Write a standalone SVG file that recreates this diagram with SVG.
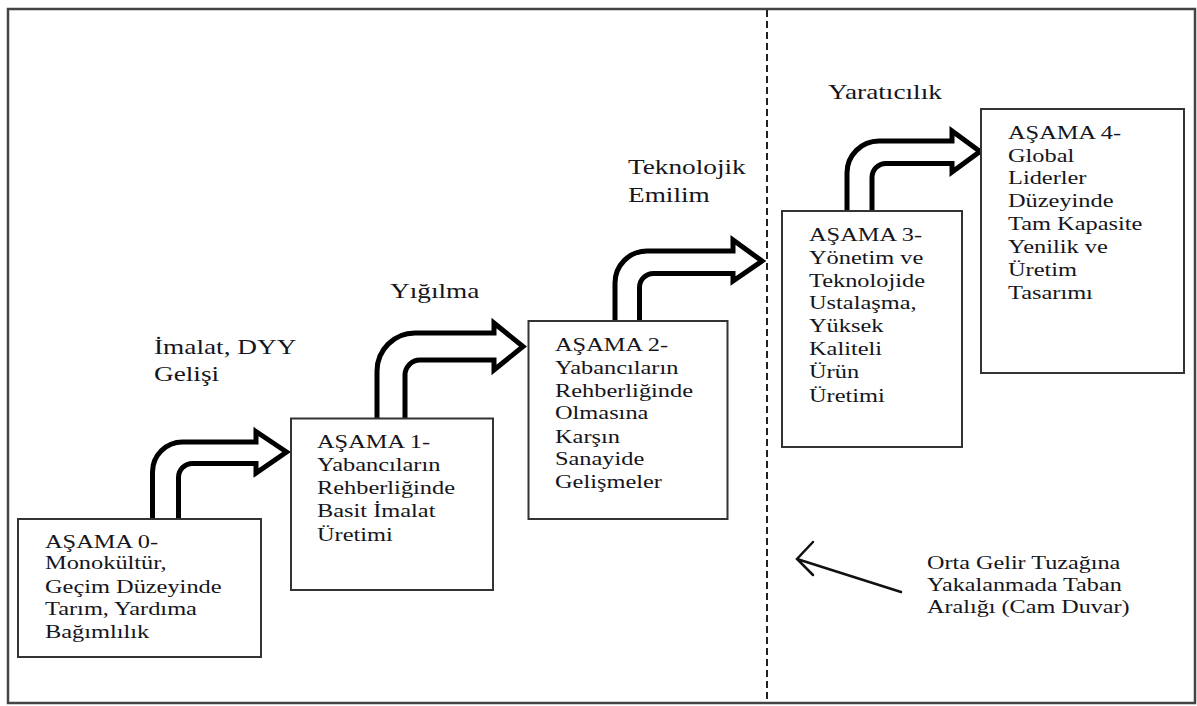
<svg xmlns="http://www.w3.org/2000/svg" width="1197" height="706" viewBox="0 0 1197 706">
<style>
.frame{fill:none;stroke:#444;stroke-width:2.5}
.box{fill:#fff;stroke:#333;stroke-width:2}
.arr{fill:#fff;stroke:#000;stroke-width:5;stroke-linejoin:miter;stroke-miterlimit:8}
.t{font-family:"Liberation Serif","Times New Roman",serif;font-size:19.5px;fill:#151520}
.lbl{font-family:"Liberation Serif","Times New Roman",serif;font-size:22px;fill:#151520}
.wall{stroke:#222;stroke-width:2;stroke-dasharray:7 4}
.ptr{fill:none;stroke:#111;stroke-width:2.5;stroke-linecap:round}
</style>
<rect width="1197" height="706" fill="#fff"/>
<rect class="frame" x="8" y="9" width="1187" height="694"/>
<line id="glass-wall" class="wall" x1="767" y1="10" x2="767" y2="702"/>

<g id="connectors">
<path class="arr" d="M152.5,519 V472 A30,30 0 0 1 182.5,442 H256 V431.5 L286.5,452 L256,473 V463.5 H192.5 A14,14 0 0 0 178.5,477.5 V519"/>
<path class="arr" d="M377,418.5 V371 A38,38 0 0 1 415,333 H494 V323 L523,346.5 L494,370 V360 H420 A15,15 0 0 0 405,375 V418.5"/>
<path class="arr" d="M615,321 V283 A32,32 0 0 1 647,251 H733 V240 L762,261 L733,281 V273.5 H653.5 A14,14 0 0 0 639.5,287.5 V321"/>
<path class="arr" d="M847,211 V173 A32,32 0 0 1 879,141 H952 V131 L980,151.5 L952,172 V163.5 H886 A14,14 0 0 0 872,177.5 V211"/>
<path class="ptr" d="M901,592 L797,559 M813,542 L797,559 L813,575"/>
</g>

<g id="stage0">
<rect class="box" x="18" y="519" width="243" height="138"/>
<text class="t" transform="translate(45,0) scale(1.25,1)"><tspan x="0" y="548">AŞAMA 0-</tspan><tspan x="0" y="569">Monokültür,</tspan><tspan x="0" y="593">Geçim Düzeyinde</tspan><tspan x="0" y="615">Tarım, Yardıma</tspan><tspan x="0" y="638">Bağımlılık</tspan></text>
</g>
<g id="stage1">
<rect class="box" x="291" y="418.5" width="202" height="171.5"/>
<text class="t" transform="translate(317,0) scale(1.25,1)"><tspan x="0" y="448">AŞAMA 1-</tspan><tspan x="0" y="471">Yabancıların</tspan><tspan x="0" y="494">Rehberliğinde</tspan><tspan x="0" y="517">Basit İmalat</tspan><tspan x="0" y="541">Üretimi</tspan></text>
</g>
<g id="stage2">
<rect class="box" x="528.5" y="321" width="199" height="198"/>
<text class="t" transform="translate(555,0) scale(1.25,1)"><tspan x="0" y="351">AŞAMA 2-</tspan><tspan x="0" y="374">Yabancıların</tspan><tspan x="0" y="397">Rehberliğinde</tspan><tspan x="0" y="419">Olmasına</tspan><tspan x="0" y="443">Karşın</tspan><tspan x="0" y="465">Sanayide</tspan><tspan x="0" y="488">Gelişmeler</tspan></text>
</g>
<g id="stage3">
<rect class="box" x="782" y="211" width="180" height="236"/>
<text class="t" transform="translate(809,0) scale(1.25,1)"><tspan x="0" y="241">AŞAMA 3-</tspan><tspan x="0" y="264">Yönetim ve</tspan><tspan x="0" y="287">Teknolojide</tspan><tspan x="0" y="309">Ustalaşma,</tspan><tspan x="0" y="332">Yüksek</tspan><tspan x="0" y="355">Kaliteli</tspan><tspan x="0" y="378">Ürün</tspan><tspan x="0" y="402">Üretimi</tspan></text>
</g>
<g id="stage4">
<rect class="box" x="981" y="109" width="203" height="264"/>
<text class="t" transform="translate(1008,0) scale(1.25,1)"><tspan x="0" y="139">AŞAMA 4-</tspan><tspan x="0" y="162">Global</tspan><tspan x="0" y="184">Liderler</tspan><tspan x="0" y="207">Düzeyinde</tspan><tspan x="0" y="230">Tam Kapasite</tspan><tspan x="0" y="253">Yenilik ve</tspan><tspan x="0" y="276">Üretim</tspan><tspan x="0" y="299">Tasarımı</tspan></text>
</g>

<g id="labels">
<text class="lbl" transform="translate(154,0) scale(1.24,1)"><tspan x="0" y="354">İmalat, DYY</tspan><tspan x="0" y="381">Gelişi</tspan></text>
<text class="lbl" transform="translate(390,0) scale(1.24,1)"><tspan x="0" y="298">Yığılma</tspan></text>
<text class="lbl" transform="translate(628,0) scale(1.24,1)"><tspan x="0" y="174">Teknolojik</tspan><tspan x="0" y="202">Emilim</tspan></text>
<text class="lbl" transform="translate(828,0) scale(1.24,1)"><tspan x="0" y="99">Yaratıcılık</tspan></text>
<text class="t" transform="translate(927,0) scale(1.24,1)"><tspan x="0" y="569">Orta Gelir Tuzağına</tspan><tspan x="0" y="591">Yakalanmada Taban</tspan><tspan x="0" y="613">Aralığı (Cam Duvar)</tspan></text>
</g>
</svg>
